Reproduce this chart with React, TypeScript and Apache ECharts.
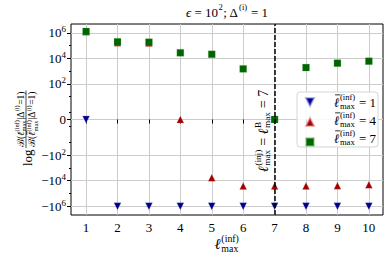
import React, { useEffect, useRef } from 'react';
import * as echarts from 'echarts';

// ---------- data ----------
const xValues = [1, 2, 3, 4, 5, 6, 7, 8, 9, 10];
const seriesL1 = [0, -1.05e6, -1.05e6, -1.05e6, -1.05e6, -1.05e6, -1.05e6, -1.05e6, -1.05e6, -1.05e6];
const seriesL4 = [1.25e6, 1.7e5, 1.6e5, 0, -6e3, -2.7e4, -2.7e4, -2.6e4, -2.5e4, -2.1e4];
const seriesL7 = [1.3e6, 2.0e5, 1.86e5, 2.75e4, 2.1e4, 1.5e3, 0, 1.9e3, 4.2e3, 6.0e3];
const yTickRaw = [-1e6, -1e4, -1e2, 0, 1e2, 1e4, 1e6];
const yTickLabels = ['{b|−10}{s|6}', '{b|−10}{s|4}', '{b|−10}{s|2}', '{b|0}', '{b|10}{s|2}', '{b|10}{s|4}', '{b|10}{s|6}'];
const yMinorRaw = [-1e5, -1e3, -1e1, -0.7, 0.7, 1e1, 1e3, 1e5];
const verticalLineAt = 7;
const legendNames = ['1', '4', '7'];

// symlog-like transform
const C = 0.8;
function tf(v: number): number {
  const a = Math.abs(v);
  if (a < 1) return v * C;
  return Math.sign(v) * (C + Math.log10(a));
}

const FONT = '"Liberation Serif", "DejaVu Serif", serif';
let ctx2d: CanvasRenderingContext2D | null = null;
function measure(s: string, size: number, italic: boolean) {
  if (!ctx2d) ctx2d = document.createElement('canvas').getContext('2d');
  ctx2d!.font = `${italic ? 'italic ' : ''}${size}px ${FONT}`;
  return ctx2d!.measureText(s).width;
}
type Tok = { t?: string; it?: boolean; bar?: boolean; sup?: string; sub?: string };
function mathEls(toks: Tok[], size: number, x0: number, y0: number, z = 20) {
  const els: any[] = [];
  let x = x0;
  const txt = (s: string, xx: number, yy: number, sz: number, it: boolean) => ({
    type: 'text', x: xx, y: yy, z,
    style: { text: s, fontSize: sz, fontFamily: FONT, fontStyle: it ? 'italic' : 'normal', fill: '#000', align: 'left', verticalAlign: 'middle' },
  });
  for (const tk of toks) {
    if (tk.t !== undefined) {
      const w = measure(tk.t, size, !!tk.it);
      els.push(txt(tk.t, x, y0, size, !!tk.it));
      if (tk.bar) {
        els.push({ type: 'line', z, shape: { x1: x + w * 0.2, y1: y0 - size * 0.55, x2: x + w + 1, y2: y0 - size * 0.55 }, style: { stroke: '#000', lineWidth: 0.8 } });
      }
      x += w;
    } else {
      const s2 = size * 0.66;
      let w = 0;
      if (tk.sup) { els.push(txt(tk.sup, x + 0.5, y0 - size * 0.38, s2, false)); w = Math.max(w, measure(tk.sup, s2, false)); }
      if (tk.sub) { els.push(txt(tk.sub, x + 0.5, y0 + size * 0.32, s2, false)); w = Math.max(w, measure(tk.sub, s2, false)); }
      x += w + 1;
    }
  }
  return { els, w: x - x0 };
}

export default function App() {
  const ref = useRef<HTMLDivElement>(null);
  useEffect(() => {
    if (!ref.current) return;
    const chart = echarts.init(ref.current, undefined, { renderer: 'svg' });
    const yMajor = yTickRaw.map(tf);
    const yMinor = yMinorRaw.map(tf);

    // title
    const titleToks: Tok[] = [{ t: 'ϵ', it: true }, { t: ' = 10' }, { sup: '2' }, { t: '; Δ' }, { sup: '(i)' }, { t: ' = 1' }];
    const titleT = mathEls(titleToks, 13, 0, 0);
    const title = mathEls(titleToks, 13, 227 - titleT.w / 2, 12);

    // x label
    const xlToks: Tok[] = [{ t: 'ℓ', it: true }, { sup: '(inf)', sub: 'max' }];
    const xlT = mathEls(xlToks, 15, 0, 0);
    const xl = mathEls(xlToks, 15, 227 - xlT.w / 2, 244);

    // y label (rotated)
    const logT = mathEls([{ t: 'log' }], 13, 0, 1);
    const fs = 9.5;
    const num = mathEls([{ t: 'ℬ(' }, { t: 'ℓ', it: true }, { sup: '(inf)', sub: 'max' }, { t: '|Δ' }, { sup: '(i)' }, { t: '=1)' }], fs, 19, -5.5);
    const den = mathEls([{ t: 'ℬ(' }, { t: 'ℓ', it: true, bar: true }, { sup: '(inf)', sub: 'max' }, { t: '|Δ' }, { sup: '(i)' }, { t: '=1)' }], fs, 19, 6);
    const fracW = Math.max(num.w, den.w);
    const yLabelGroup = {
      type: 'group', x: 26, y: 166, rotation: Math.PI / 2, z: 20,
      children: [...logT.els, ...num.els, ...den.els,
        { type: 'line', z: 20, shape: { x1: 18, y1: 0, x2: 19 + fracW + 1, y2: 0 }, style: { stroke: '#000', lineWidth: 0.7 } }],
    };

    // vertical-line label (rotated)
    const vl = mathEls([{ t: 'ℓ', it: true }, { sup: '(inj)', sub: 'max' }, { t: ' = ' }, { t: 'ℓ', it: true }, { sup: 'B', sub: 'max' }, { t: ' = 7' }], 14, 0, 0);
    const vlGroup = { type: 'group', x: 263, y: 172, rotation: Math.PI / 2, z: 20, children: vl.els };

    // legend labels
    const legendTexts: any[] = [];
    legendNames.forEach((n, i) => {
      const m = mathEls([{ t: 'ℓ', it: true, bar: true }, { sup: '(inf)', sub: 'max' }, { t: ' = ' + n }], 13, 334, 102 + i * 18, 30);
      legendTexts.push(...m.els);
    });

    chart.setOption({
      animation: false,
      grid: { left: 71, right: 7, top: 24, bottom: 46, show: true, borderColor: '#000', borderWidth: 1, backgroundColor: 'transparent', outerBoundsMode: 'none' },
      xAxis: {
        type: 'value', min: 0.52, max: 10.45,
        axisLine: { show: false },
        axisTick: { show: true, customValues: xValues, length: 4, lineStyle: { color: '#000' } },
        axisLabel: { customValues: xValues, color: '#000', fontSize: 13, fontFamily: FONT, margin: 6 },
        splitLine: { show: true, lineStyle: { color: '#cccccc', width: 1 } },
      },
      yAxis: [
        {
          type: 'value', min: -7.5, max: 7.5,
          axisLine: { show: false },
          axisTick: { show: true, customValues: yMajor, length: 4, lineStyle: { color: '#000' } },
          axisLabel: {
            customValues: yMajor, margin: 5, color: '#000',
            formatter: (v: number) => {
              const i = yMajor.findIndex((m) => Math.abs(m - v) < 1e-6);
              return i >= 0 ? yTickLabels[i] : '';
            },
            rich: {
              b: { fontSize: 13, fontFamily: FONT, color: '#000', lineHeight: 16 },
              s: { fontSize: 9, fontFamily: FONT, color: '#000', verticalAlign: 'top' },
            },
          },
          splitLine: { show: true, lineStyle: { color: '#cccccc', width: 1 } },
        },
        {
          type: 'value', min: -7.5, max: 7.5, position: 'left',
          axisLine: { show: false },
          axisTick: { show: true, customValues: yMinor, length: 2, lineStyle: { color: '#000' } },
          axisLabel: { show: false },
          splitLine: { show: false },
        },
      ],
      legend: {
        show: true, orient: 'vertical', left: 305, top: 97, padding: 0,
        itemWidth: 8, itemHeight: 8, itemGap: 10, z: 25,
        formatter: () => '',
        data: [
          { name: 'L1', icon: 'path://M0,0L10,0L5,10Z', itemStyle: { color: '#00008b' } },
          { name: 'L4', icon: 'path://M5,0L10,10L0,10Z', itemStyle: { color: '#a00000' } },
          { name: 'L7', icon: 'rect', itemStyle: { color: '#006400' } },
        ],
      },
      graphic: {
        elements: [
          ...title.els, ...xl.els, yLabelGroup, vlGroup,
          { type: 'rect', z: 22, shape: { x: 297, y: 92, width: 81, height: 55, r: 3 }, style: { fill: 'rgba(255,255,255,0.85)', stroke: '#d5d5d5', lineWidth: 1 } },
          ...legendTexts,
        ],
      },
      series: [
        {
          name: 'L1', type: 'scatter', yAxisIndex: 0, symbol: 'triangle', symbolRotate: 180, symbolSize: 7,
          itemStyle: { color: '#00008b', opacity: 1, borderColor: 'rgba(120,120,220,0.5)', borderWidth: 0.5 },
          data: xValues.map((x, i) => [x, tf(seriesL1[i])]),
        },
        {
          name: 'L4', type: 'scatter', yAxisIndex: 0, symbol: 'triangle', symbolSize: 7,
          itemStyle: { color: '#a00000', opacity: 1, borderColor: 'rgba(230,120,120,0.5)', borderWidth: 0.5 },
          data: xValues.map((x, i) => [x, tf(seriesL4[i])]),
        },
        {
          name: 'L7', type: 'scatter', yAxisIndex: 0, symbol: 'rect', symbolSize: 7,
          itemStyle: { color: '#006400', opacity: 1, borderColor: 'rgba(120,200,120,0.5)', borderWidth: 0.5 },
          data: xValues.map((x, i) => [x, tf(seriesL7[i])]),
          markLine: {
            silent: true, symbol: 'none', z: 10, label: { show: false },
            lineStyle: { color: '#000', type: [5, 2], width: 1.5, opacity: 1 },
            data: [{ xAxis: verticalLineAt }],
          },
        },
      ],
    });
    return () => chart.dispose();
  }, []);
  return <div ref={ref} style={{ width: 390, height: 261, position: 'absolute', left: 0, top: 0 }} />;
}
